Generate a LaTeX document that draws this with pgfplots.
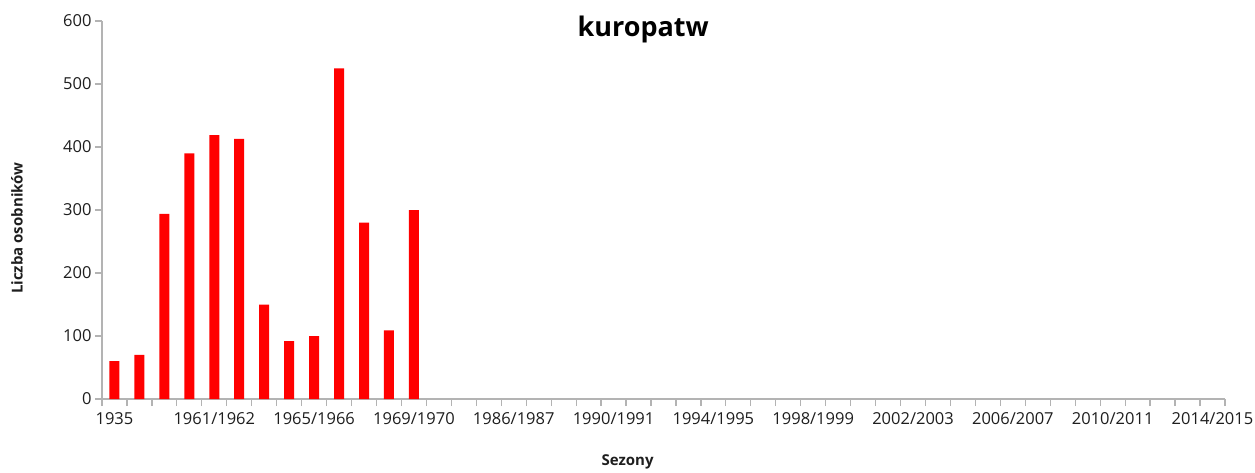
\documentclass[border=0pt]{standalone}
\usepackage{fontspec}
\setmainfont{Open Sans}
\usepackage{pgfplots}
\pgfplotsset{compat=1.18}
\definecolor{axisgray}{RGB}{179,179,179}
\definecolor{txt}{RGB}{30,30,30}
\begin{document}
\begin{tikzpicture}
\begin{axis}[
    at={(0pt,0pt)}, anchor=south west,
    scale only axis,
    width=1123pt, height=378pt,
    xmin=-0.5, xmax=44.5,
    ymin=0, ymax=600,
    enlargelimits=false,
    axis lines*=left,
    axis line style={axisgray, line width=1.2pt, -},
    tick style={axisgray, line width=1.2pt},
    tick align=outside,
    xtick={0,4,...,44},
    xticklabels={1935,1961/1962,1965/1966,1969/1970,1986/1987,1990/1991,1994/1995,1998/1999,2002/2003,2006/2007,2010/2011,2014/2015},
    minor xtick={-0.5,0.5,...,44.5},
    major x tick style={draw=none},
    minor tick length=7pt,
    major tick length=7pt,
    ytick={0,100,...,600},
    tick label style={font=\fontsize{16.5}{18}\selectfont, text=txt},
    /pgf/number format/assume math mode=true,
    xticklabel style={yshift=-3pt},
    title={kuropatw},
    title style={at={(0.482,0.963)}, anchor=center, font=\fontsize{27}{30}\selectfont\bfseries, text=black},
    xlabel={Sezony},
    xlabel style={at={(axis description cs:0.468,-0.167)}, anchor=center, font=\fontsize{15}{17}\selectfont\bfseries, text=txt},
    ylabel={Liczba osobników},
    ylabel style={at={(axis description cs:-0.0757,0.452)}, anchor=center, rotate=0, font=\fontsize{15}{17}\selectfont\bfseries, text=txt},
]
\addplot[ybar, bar width=10pt, bar shift=0pt, fill=red, draw=none] coordinates {
(0,60) (1,70) (2,294) (3,390) (4,419) (5,413) (6,150) (7,92) (8,100) (9,525) (10,280) (11,109) (12,300)
};
\end{axis}
\pgfresetboundingbox
\path (-102pt,-73pt) rectangle (1153pt,399pt);
\end{tikzpicture}
\end{document}
